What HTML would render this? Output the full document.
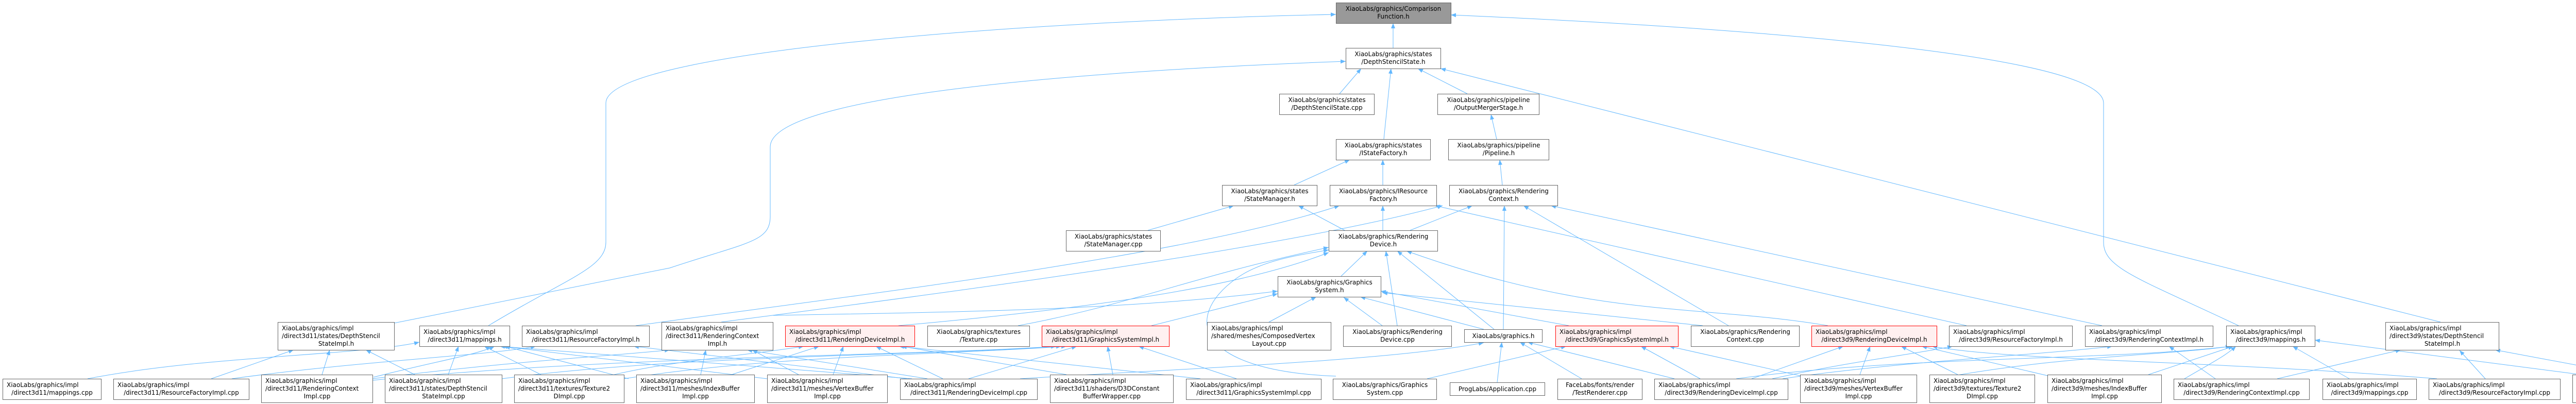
<!DOCTYPE html>
<html><head><meta charset="utf-8"><style>
html,body{margin:0;padding:0;background:#fff;}
svg{display:block;}
text{font-family:"DejaVu Sans","Liberation Sans",sans-serif;font-size:12px;fill:#000;}
.n{fill:#fff;stroke:#666;stroke-width:1;}
.r{fill:#fff0f0;stroke:#f00;stroke-width:1;}
.g{fill:#999;stroke:#666;stroke-width:1;}
path.e{fill:none;stroke:#63b8ff;stroke-width:1;marker-end:url(#a);}
</style></head><body>
<svg width="5218" height="784" viewBox="0 0 5218 784" xmlns="http://www.w3.org/2000/svg">
<defs><marker id="a" viewBox="0 0 10 8" refX="10" refY="4" markerWidth="10" markerHeight="8" markerUnits="userSpaceOnUse" orient="auto"><path d="M0,0 L10,4 L0,8 z" fill="#63b8ff"/></marker></defs>

<!-- edges -->
<path class="e" d="M2704,93 L2704,45"/>
<path class="e" d="M2600,182 L2642,133"/>
<path class="e" d="M2848,182 L2752,133"/>
<path class="e" d="M2686,270 L2700,133"/>
<path class="e" d="M2905,270 L2894,222"/>
<path class="e" d="M2916,359 L2911,310"/>
<path class="e" d="M2512,359 L2620,310"/>
<path class="e" d="M2684,359 L2684,310"/>
<path class="e" d="M2228,447 L2395,399"/>
<path class="e" d="M2684,447 L2684,399"/>
<path class="e" d="M2737,447 L2858,399"/>
<path class="e" d="M2610,447 L2520,399"/>
<path class="e" d="M2603,536 L2654,487"/>
<path class="e" d="M948,632 C1100,540 1176,520 1176,470 L1176,200 C1176,100 2000,40 2593,28"/>
<path class="e" d="M4345,632 C4150,540 4083,520 4083,470 L4083,200 C4083,100 3300,50 2816,29"/>
<path class="e" d="M765,627 L1300,520 C1450,470 1495,470 1495,420 L1495,285 C1495,170 2300,130 2612,119"/>
<path class="e" d="M4737,625 L2796,133"/>
<path class="e" d="M1234,632 C1600,580 2300,500 2600,399"/>
<path class="e" d="M1400,625 C1900,560 2500,480 2800,399"/>
<path class="e" d="M3817,632 L2785,399"/>
<path class="e" d="M4080,632 L3010,399"/>
<path class="e" d="M3355,632 L2957,399"/>
<path class="e" d="M2918,639 L2920,399"/>
<path class="e" d="M2900,639 L2712,487"/>
<path class="e" d="M2712,632 L2690,487"/>
<path class="e" d="M3548,632 C3300,590 3100,620 2730,487"/>
<path class="e" d="M1976,632 C2200,590 2300,540 2579,480"/>
<path class="e" d="M1744,632 C2100,600 2400,560 2579,490"/>
<path class="e" d="M2235,632 L2480,570"/>
<path class="e" d="M1500,612 C1900,605 2200,600 2480,565"/>
<path class="e" d="M2463,625 L2555,576"/>
<path class="e" d="M2683,632 L2608,577"/>
<path class="e" d="M2880,639 L2640,576"/>
<path class="e" d="M3045,632 L2680,565"/>
<path class="e" d="M3305,632 C3000,600 2900,590 2683,568"/>
<path class="e" d="M2593,730 C2330,720 2290,620 2400,540 C2450,505 2520,495 2579,485"/>

<path class="e" d="M170,735 C400,690 700,690 814,664"/>
<path class="e" d="M410,735 L570,679"/>
<path class="e" d="M450,735 C700,700 950,690 1040,672"/>
<path class="e" d="M625,727 L640,679"/>
<path class="e" d="M725,732 C850,700 920,690 960,672"/>
<path class="e" d="M723,735 C1000,700 1200,690 1300,679"/>
<path class="e" d="M723,738 C1200,690 1800,690 2050,672"/>
<path class="e" d="M805,727 L710,679"/>
<path class="e" d="M870,727 L890,672"/>
<path class="e" d="M974,735 C1300,690 1800,690 2060,672"/>
<path class="e" d="M1050,727 L940,672"/>
<path class="e" d="M1180,730 C1300,700 1450,690 1560,672"/>
<path class="e" d="M1211,735 C1500,690 1800,690 2070,672"/>
<path class="e" d="M1220,735 L980,672"/>
<path class="e" d="M1360,727 L1370,679"/>
<path class="e" d="M1420,727 L1590,672"/>
<path class="e" d="M1617,727 L1637,672"/>
<path class="e" d="M1489,735 L975,672"/>
<path class="e" d="M1550,727 L1460,679"/>
<path class="e" d="M1830,735 L1700,672"/>
<path class="e" d="M1880,735 L2090,672"/>
<path class="e" d="M1800,735 L1450,679"/>
<path class="e" d="M1760,735 L1230,672"/>
<path class="e" d="M1770,735 L970,672"/>
<path class="e" d="M2160,727 L2150,672"/>
<path class="e" d="M2070,727 L1750,672"/>
<path class="e" d="M2400,735 L2210,672"/>
<path class="e" d="M2330,735 L1745,672"/>
<path class="e" d="M1980,735 C2300,715 2700,700 2880,665"/>
<path class="e" d="M2770,735 L3040,672"/>
<path class="e" d="M2906,742 L2915,664"/>
<path class="e" d="M3070,735 L2950,664"/>
<path class="e" d="M3250,735 L2965,664"/>
<path class="e" d="M3300,735 L3185,672"/>
<path class="e" d="M3400,735 L3578,672"/>
<path class="e" d="M3440,735 C3600,700 3700,690 3790,672"/>
<path class="e" d="M3370,735 C3700,690 4100,700 4330,672"/>
<path class="e" d="M3460,735 C3700,700 3950,690 4100,672"/>
<path class="e" d="M3610,727 L3630,672"/>
<path class="e" d="M3520,735 L3240,672"/>
<path class="e" d="M3800,727 L3690,672"/>
<path class="e" d="M3760,735 C4000,690 4200,690 4330,672"/>
<path class="e" d="M4170,727 L4335,672"/>
<path class="e" d="M4000,735 L3730,672"/>
<path class="e" d="M4300,735 L4210,672"/>
<path class="e" d="M4420,735 L4660,679"/>
<path class="e" d="M4240,735 C4300,700 4320,690 4340,672"/>
<path class="e" d="M4560,735 L4450,672"/>
<path class="e" d="M4730,735 C4300,700 3900,700 3750,672"/>
<path class="e" d="M4824,735 L4774,680"/>
<path class="e" d="M5010,727 L4493,660"/>
<path class="e" d="M5100,727 L4843,679"/>

<!-- nodes -->
<rect class="g" x="2593.5" y="5.5" width="223" height="40"/>
<text x="2704.5" y="21" text-anchor="middle">XiaoLabs/graphics/Comparison</text><text x="2704.5" y="36" text-anchor="middle">Function.h</text>

<rect class="n" x="2612.5" y="93.5" width="184" height="40"/>
<text x="2704.5" y="109" text-anchor="middle">XiaoLabs/graphics/states</text><text x="2704.5" y="124" text-anchor="middle">/DepthStencilState.h</text>

<rect class="n" x="2483.5" y="182.5" width="184" height="40"/>
<text x="2575.5" y="198" text-anchor="middle">XiaoLabs/graphics/states</text><text x="2575.5" y="213" text-anchor="middle">/DepthStencilState.cpp</text>

<rect class="n" x="2790.5" y="182.5" width="197" height="40"/>
<text x="2889" y="198" text-anchor="middle">XiaoLabs/graphics/pipeline</text><text x="2889" y="213" text-anchor="middle">/OutputMergerStage.h</text>

<rect class="n" x="2593.5" y="270.5" width="183" height="40"/>
<text x="2685" y="286" text-anchor="middle">XiaoLabs/graphics/states</text><text x="2685" y="301" text-anchor="middle">/IStateFactory.h</text>

<rect class="n" x="2811.5" y="270.5" width="195" height="40"/>
<text x="2909" y="286" text-anchor="middle">XiaoLabs/graphics/pipeline</text><text x="2909" y="301" text-anchor="middle">/Pipeline.h</text>

<rect class="n" x="2372.5" y="359.5" width="184" height="40"/>
<text x="2464.5" y="375" text-anchor="middle">XiaoLabs/graphics/states</text><text x="2464.5" y="390" text-anchor="middle">/StateManager.h</text>

<rect class="n" x="2581.5" y="359.5" width="207" height="40"/>
<text x="2685" y="375" text-anchor="middle">XiaoLabs/graphics/IResource</text><text x="2685" y="390" text-anchor="middle">Factory.h</text>

<rect class="n" x="2813.5" y="359.5" width="210" height="40"/>
<text x="2918.5" y="375" text-anchor="middle">XiaoLabs/graphics/Rendering</text><text x="2918.5" y="390" text-anchor="middle">Context.h</text>

<rect class="n" x="2069.5" y="447.5" width="183" height="40"/>
<text x="2161" y="463" text-anchor="middle">XiaoLabs/graphics/states</text><text x="2161" y="478" text-anchor="middle">/StateManager.cpp</text>

<rect class="n" x="2579.5" y="447.5" width="211" height="40"/>
<text x="2685" y="463" text-anchor="middle">XiaoLabs/graphics/Rendering</text><text x="2685" y="478" text-anchor="middle">Device.h</text>

<rect class="n" x="2480.5" y="536.5" width="200" height="40"/>
<text x="2580.5" y="552" text-anchor="middle">XiaoLabs/graphics/Graphics</text><text x="2580.5" y="567" text-anchor="middle">System.h</text>

<!-- row 7 -->
<rect class="n" x="539.5" y="625.5" width="226" height="54"/>
<text x="547" y="641">XiaoLabs/graphics/impl</text><text x="547" y="656">/direct3d11/states/DepthStencil</text><text x="652.5" y="671" text-anchor="middle">StateImpl.h</text>

<rect class="n" x="814.5" y="632.5" width="175" height="40"/>
<text x="822" y="648">XiaoLabs/graphics/impl</text><text x="902" y="663" text-anchor="middle">/direct3d11/mappings.h</text>

<rect class="n" x="1013.5" y="632.5" width="247" height="40"/>
<text x="1021" y="648">XiaoLabs/graphics/impl</text><text x="1137" y="663" text-anchor="middle">/direct3d11/ResourceFactoryImpl.h</text>

<rect class="n" x="1284.5" y="625.5" width="216" height="54"/>
<text x="1292" y="641">XiaoLabs/graphics/impl</text><text x="1292" y="656">/direct3d11/RenderingContext</text><text x="1392.5" y="671" text-anchor="middle">Impl.h</text>

<rect class="r" x="1524.5" y="632.5" width="251" height="40"/>
<text x="1532" y="648">XiaoLabs/graphics/impl</text><text x="1650" y="663" text-anchor="middle">/direct3d11/RenderingDeviceImpl.h</text>

<rect class="n" x="1800.5" y="632.5" width="198" height="40"/>
<text x="1899.5" y="648" text-anchor="middle">XiaoLabs/graphics/textures</text><text x="1899.5" y="663" text-anchor="middle">/Texture.cpp</text>

<rect class="r" x="2022.5" y="632.5" width="247" height="40"/>
<text x="2030" y="648">XiaoLabs/graphics/impl</text><text x="2146" y="663" text-anchor="middle">/direct3d11/GraphicsSystemImpl.h</text>

<rect class="n" x="2343.5" y="625.5" width="240" height="54"/>
<text x="2351" y="641">XiaoLabs/graphics/impl</text><text x="2351" y="656">/shared/meshes/ComposedVertex</text><text x="2463.5" y="671" text-anchor="middle">Layout.cpp</text>

<rect class="n" x="2607.5" y="632.5" width="210" height="40"/>
<text x="2712.5" y="648" text-anchor="middle">XiaoLabs/graphics/Rendering</text><text x="2712.5" y="663" text-anchor="middle">Device.cpp</text>

<rect class="n" x="2842.5" y="639.5" width="151" height="25"/>
<text x="2918" y="656" text-anchor="middle">XiaoLabs/graphics.h</text>

<rect class="r" x="3019.5" y="632.5" width="238" height="40"/>
<text x="3027" y="648">XiaoLabs/graphics/impl</text><text x="3138.5" y="663" text-anchor="middle">/direct3d9/GraphicsSystemImpl.h</text>

<rect class="n" x="3282.5" y="632.5" width="210" height="40"/>
<text x="3387.5" y="648" text-anchor="middle">XiaoLabs/graphics/Rendering</text><text x="3387.5" y="663" text-anchor="middle">Context.cpp</text>

<rect class="r" x="3516.5" y="632.5" width="243" height="40"/>
<text x="3524" y="648">XiaoLabs/graphics/impl</text><text x="3638" y="663" text-anchor="middle">/direct3d9/RenderingDeviceImpl.h</text>

<rect class="n" x="3783.5" y="632.5" width="239" height="40"/>
<text x="3791" y="648">XiaoLabs/graphics/impl</text><text x="3903" y="663" text-anchor="middle">/direct3d9/ResourceFactoryImpl.h</text>

<rect class="n" x="4047.5" y="632.5" width="248" height="40"/>
<text x="4055" y="648">XiaoLabs/graphics/impl</text><text x="4171.5" y="663" text-anchor="middle">/direct3d9/RenderingContextImpl.h</text>

<rect class="n" x="4321.5" y="632.5" width="172" height="40"/>
<text x="4329" y="648">XiaoLabs/graphics/impl</text><text x="4407.5" y="663" text-anchor="middle">/direct3d9/mappings.h</text>

<rect class="n" x="4630.5" y="625.5" width="220" height="54"/>
<text x="4638" y="641">XiaoLabs/graphics/impl</text><text x="4638" y="656">/direct3d9/states/DepthStencil</text><text x="4740.5" y="671" text-anchor="middle">StateImpl.h</text>

<!-- row 8 -->
<rect class="n" x="5.5" y="735.5" width="191" height="40"/>
<text x="13" y="751">XiaoLabs/graphics/impl</text><text x="101" y="766" text-anchor="middle">/direct3d11/mappings.cpp</text>

<rect class="n" x="220.5" y="735.5" width="263" height="40"/>
<text x="228" y="751">XiaoLabs/graphics/impl</text><text x="352" y="766" text-anchor="middle">/direct3d11/ResourceFactoryImpl.cpp</text>

<rect class="n" x="507.5" y="727.5" width="216" height="54"/>
<text x="515" y="743">XiaoLabs/graphics/impl</text><text x="515" y="758">/direct3d11/RenderingContext</text><text x="615.5" y="773" text-anchor="middle">Impl.cpp</text>

<rect class="n" x="747.5" y="727.5" width="227" height="54"/>
<text x="755" y="743">XiaoLabs/graphics/impl</text><text x="755" y="758">/direct3d11/states/DepthStencil</text><text x="861" y="773" text-anchor="middle">StateImpl.cpp</text>

<rect class="n" x="998.5" y="727.5" width="213" height="54"/>
<text x="1006" y="743">XiaoLabs/graphics/impl</text><text x="1006" y="758">/direct3d11/textures/Texture2</text><text x="1105" y="773" text-anchor="middle">DImpl.cpp</text>

<rect class="n" x="1235.5" y="727.5" width="229" height="54"/>
<text x="1243" y="743">XiaoLabs/graphics/impl</text><text x="1243" y="758">/direct3d11/meshes/IndexBuffer</text><text x="1350" y="773" text-anchor="middle">Impl.cpp</text>

<rect class="n" x="1489.5" y="727.5" width="233" height="54"/>
<text x="1497" y="743">XiaoLabs/graphics/impl</text><text x="1497" y="758">/direct3d11/meshes/VertexBuffer</text><text x="1606" y="773" text-anchor="middle">Impl.cpp</text>

<rect class="n" x="1747.5" y="735.5" width="266" height="40"/>
<text x="1755" y="751">XiaoLabs/graphics/impl</text><text x="1880.5" y="766" text-anchor="middle">/direct3d11/RenderingDeviceImpl.cpp</text>

<rect class="n" x="2038.5" y="727.5" width="239" height="54"/>
<text x="2046" y="743">XiaoLabs/graphics/impl</text><text x="2046" y="758">/direct3d11/shaders/D3DConstant</text><text x="2158" y="773" text-anchor="middle">BufferWrapper.cpp</text>

<rect class="n" x="2302.5" y="735.5" width="262" height="40"/>
<text x="2310" y="751">XiaoLabs/graphics/impl</text><text x="2433.5" y="766" text-anchor="middle">/direct3d11/GraphicsSystemImpl.cpp</text>

<rect class="n" x="2587.5" y="735.5" width="201" height="40"/>
<text x="2688" y="751" text-anchor="middle">XiaoLabs/graphics/Graphics</text><text x="2688" y="766" text-anchor="middle">System.cpp</text>

<rect class="n" x="2814.5" y="742.5" width="184" height="25"/>
<text x="2906.5" y="759" text-anchor="middle">ProgLabs/Application.cpp</text>

<rect class="n" x="3023.5" y="735.5" width="164" height="40"/>
<text x="3105.5" y="751" text-anchor="middle">FaceLabs/fonts/render</text><text x="3105.5" y="766" text-anchor="middle">/TestRenderer.cpp</text>

<rect class="n" x="3211.5" y="735.5" width="259" height="40"/>
<text x="3219" y="751">XiaoLabs/graphics/impl</text><text x="3341" y="766" text-anchor="middle">/direct3d9/RenderingDeviceImpl.cpp</text>

<rect class="n" x="3494.5" y="727.5" width="226" height="54"/>
<text x="3502" y="743">XiaoLabs/graphics/impl</text><text x="3502" y="758">/direct3d9/meshes/VertexBuffer</text><text x="3607.5" y="773" text-anchor="middle">Impl.cpp</text>

<rect class="n" x="3745.5" y="727.5" width="204" height="54"/>
<text x="3753" y="743">XiaoLabs/graphics/impl</text><text x="3753" y="758">/direct3d9/textures/Texture2</text><text x="3847.5" y="773" text-anchor="middle">DImpl.cpp</text>

<rect class="n" x="3974.5" y="727.5" width="221" height="54"/>
<text x="3982" y="743">XiaoLabs/graphics/impl</text><text x="3982" y="758">/direct3d9/meshes/IndexBuffer</text><text x="4085" y="773" text-anchor="middle">Impl.cpp</text>

<rect class="n" x="4219.5" y="735.5" width="263" height="40"/>
<text x="4227" y="751">XiaoLabs/graphics/impl</text><text x="4351" y="766" text-anchor="middle">/direct3d9/RenderingContextImpl.cpp</text>

<rect class="n" x="4508.5" y="735.5" width="182" height="40"/>
<text x="4516" y="751">XiaoLabs/graphics/impl</text><text x="4599.5" y="766" text-anchor="middle">/direct3d9/mappings.cpp</text>

<rect class="n" x="4714.5" y="735.5" width="255" height="40"/>
<text x="4722" y="751">XiaoLabs/graphics/impl</text><text x="4842" y="766" text-anchor="middle">/direct3d9/ResourceFactoryImpl.cpp</text>

<rect class="n" x="4993.5" y="727.5" width="219" height="54"/>
<text x="5001" y="743">XiaoLabs/graphics/impl</text><text x="5001" y="758">/direct3d9/states/DepthStencil</text><text x="5103" y="773" text-anchor="middle">StateImpl.cpp</text>
</svg>
</body></html>
